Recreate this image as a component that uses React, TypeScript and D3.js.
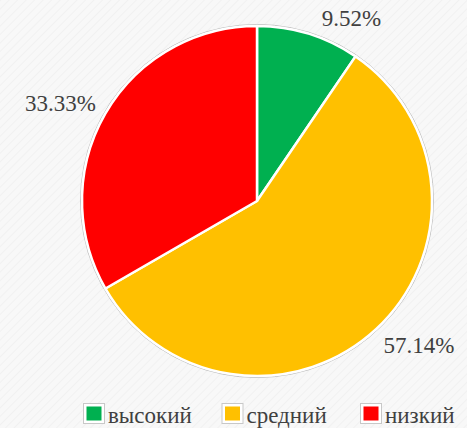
import { useEffect, useRef } from 'react';
import * as d3 from 'd3';

const categories = ['высокий', 'средний', 'низкий'];
const values = [9.52, 57.14, 33.33];
const labels = ['9.52%', '57.14%', '33.33%'];
const colors = ['#00b050', '#ffc000', '#ff0000'];

const width = 467;
const height = 428;
const FONT = "'Liberation Serif', 'Times New Roman', Tinos, 'DejaVu Serif', serif";

export default function App() {
  const svgRef = useRef<SVGSVGElement>(null);

  useEffect(() => {
    if (!svgRef.current) return;
    document.body.style.margin = '0';

    const svg = d3.select(svgRef.current);
    svg.selectAll('*').remove();

    // faint textured background
    const defs = svg.append('defs');
    const pat = defs.append('pattern')
      .attr('id', 'bg')
      .attr('width', 6)
      .attr('height', 6)
      .attr('patternUnits', 'userSpaceOnUse')
      .attr('patternTransform', 'rotate(45)');
    pat.append('rect').attr('width', 6).attr('height', 6).attr('fill', '#f8f8f8');
    pat.append('line').attr('x1', 0).attr('y1', 0).attr('x2', 0).attr('y2', 6)
      .attr('stroke', '#f1f1f1').attr('stroke-width', 2);
    svg.append('rect').attr('width', width).attr('height', height).attr('fill', 'url(#bg)');

    const cx = 257;
    const cy = 201;
    const radius = 175;

    const pie = d3.pie<number>().value(d => d).sort(null);
    const arcs = pie(values);
    const arc = d3.arc<d3.PieArcDatum<number>>().innerRadius(0).outerRadius(radius);

    const g = svg.append('g').attr('transform', `translate(${cx},${cy})`);

    g.append('circle')
      .attr('r', radius + 1.5)
      .attr('fill', 'none')
      .attr('stroke', '#bdbdbd')
      .attr('stroke-width', 1);

    g.selectAll('path')
      .data(arcs)
      .enter()
      .append('path')
      .attr('d', arc)
      .attr('fill', (_, i) => colors[i])
      .attr('stroke', 'white')
      .attr('stroke-width', 2.5)
      .attr('stroke-linejoin', 'round');

    const labelR = 186;
    g.selectAll('text.lbl')
      .data(arcs)
      .enter()
      .append('text')
      .attr('class', 'lbl')
      .text((_, i) => labels[i])
      .attr('x', d => {
        const a = (d.startAngle + d.endAngle) / 2;
        return labelR * Math.sin(a) + (Math.sin(a) > 0 && Math.cos(a) > 0 ? 10 : 0);
      })
      .attr('y', d => {
        const a = (d.startAngle + d.endAngle) / 2;
        return -labelR * Math.cos(a) + (Math.cos(a) > 0 ? 3 : 16);
      })
      .attr('text-anchor', d => {
        const a = (d.startAngle + d.endAngle) / 2;
        return Math.sin(a) > 0 ? 'start' : 'end';
      })
      .style('font-family', FONT)
      .style('font-size', '23px')
      .attr('fill', '#404040');

    // legend
    const legendX = d3.scalePoint<string>().domain(categories).range([83, 360]);
    const lg = svg.append('g').attr('transform', 'translate(0,403)');
    const items = lg.selectAll('g')
      .data(categories)
      .enter()
      .append('g')
      .attr('transform', d => `translate(${legendX(d)},0)`);
    items.append('rect')
      .attr('x', 0.5).attr('y', 0.5)
      .attr('width', 21).attr('height', 20)
      .attr('fill', 'white')
      .attr('stroke', '#c8c8c8');
    items.append('rect')
      .attr('x', 3.5).attr('y', 3.5)
      .attr('width', 15).attr('height', 14)
      .attr('fill', (_, i) => colors[i]);
    items.append('text')
      .attr('x', 25)
      .attr('y', 20)
      .text(d => d)
      .style('font-family', FONT)
      .style('font-size', '23px')
      .attr('fill', '#404040');
  }, []);

  return (
    <div style={{ position: 'absolute', left: 0, top: 0 }}>
      <svg ref={svgRef} width={width} height={height} style={{ display: 'block' }}></svg>
    </div>
  );
}
